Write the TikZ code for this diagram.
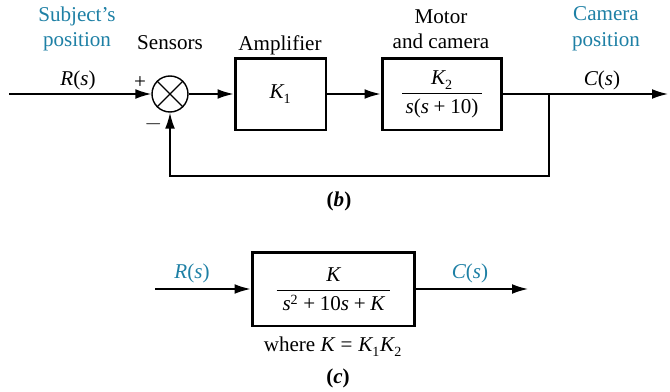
\documentclass[tikz,border=0pt]{standalone}
\usepackage{amsmath}
\usepackage{fontspec}
\usepackage{unicode-math}
\setmainfont{Liberation Serif}
\setmathfont{Latin Modern Math}
\setmathfont{Liberation Serif Italic}[range={it/{latin,Latin}}]
\setmathfont{Liberation Serif}[range={up/num, "2B, "28-"29, "3D}]
\usepackage{xcolor}
\usepackage{tikz}
\usetikzlibrary{calc, arrows.meta, positioning}
\definecolor{capblue}{RGB}{30,128,165}

\begin{document}
\begin{tikzpicture}[x=0.02cm, y=-0.02cm, >={Latex[length=9pt, width=5.5pt]},
    font=\fontsize{12}{14.5}\selectfont,
    line/.style={line width=0.8pt},
    blk/.style={draw, line width=1.7pt, minimum height=1.44cm, inner sep=0pt},
    sum/.style={draw, line width=0.8pt, circle, minimum size=0.72cm, inner sep=0pt},
    lbl/.style={align=center},
    blue/.style={text=capblue}]
    \useasboundingbox (0,0) rectangle (670,392);

    % (b) Vòng kín
    \node[sum] (sum) at (170,94) {};
    \draw[line] (sum.45) -- (sum.225) (sum.135) -- (sum.315);
    \node[blk, minimum width=1.82cm] (amp) at (280.5,94) {$K_1$};
    \node[blk, minimum width=2.4cm] (mot) at (442,94) {$\dfrac{K_2}{\,s(s+10)\,}$};
    \coordinate (in) at (9,94);
    \coordinate (out) at (668,94);
    \coordinate (br) at (549,94);
    \coordinate (fb) at (549,176);

    \draw[line, ->] (in) -- (sum);
    \draw[line, ->] (sum) -- (amp);
    \draw[line, ->] (amp) -- (mot);
    \draw[line, ->] (mot) -- (out);
    \draw[line, ->] (br) -- (fb) -| (sum.south);

    \node[lbl, blue] (subj) at (77,29) {Subject’s\\position};
    \node[lbl] (sens) at (170,43) {Sensors};
    \node[lbl] (ampl) at (280,45) {Amplifier};
    \node[lbl] (motl) at (441,29) {Motor\\and camera};
    \node[lbl, blue] (caml) at (606,29) {Camera\\position};
    \node (rs) at (78,80) {$R(s)$};
    \node (cs) at (602,80) {$C(s)$};
    \node (plus) at (140,83) {$+$};
    \node (minus) at (154,127) {$-$};
    \node (capb) at (339,201) {\textbf{(\textit{b})}};

    % (c) Tương đương
    \node[blk, minimum width=3.26cm, minimum height=1.48cm] (tf) at (333.5,289)
        {$\dfrac{K}{\;s^2+10s+K\;}$};
    \coordinate (in2) at (155,289);
    \coordinate (out2) at (528,289);
    \draw[line, ->] (in2) -- (tf);
    \draw[line, ->] (tf) -- (out2);
    \node[blue] (rs2) at (192,273) {$R(s)$};
    \node[blue] (cs2) at (470,273) {$C(s)$};
    \node (where) at (333,347) {where $K=K_1K_2$};
    \node (capc) at (338,378) {\textbf{(\textit{c})}};
\end{tikzpicture}
\end{document}
